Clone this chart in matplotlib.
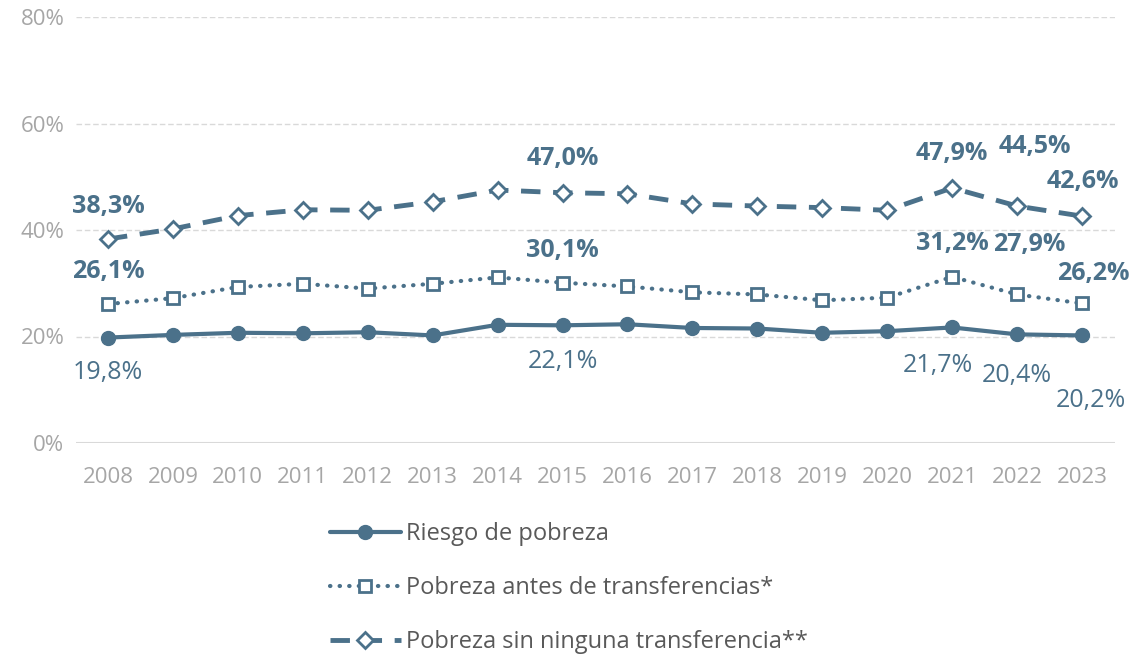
import matplotlib
matplotlib.use("Agg")
import matplotlib.pyplot as plt
from matplotlib.ticker import FuncFormatter

years = [str(y) for y in range(2008, 2024)]
riesgo = [19.8, 20.3, 20.7, 20.6, 20.8, 20.2, 22.2, 22.1, 22.3, 21.6, 21.5, 20.7, 21.0, 21.7, 20.4, 20.2]
antes = [26.1, 27.2, 29.3, 29.9, 29.0, 29.9, 31.1, 30.1, 29.4, 28.3, 27.9, 26.8, 27.3, 31.2, 27.9, 26.2]
sin_ninguna = [38.3, 40.2, 42.7, 43.8, 43.7, 45.3, 47.5, 47.0, 46.8, 44.9, 44.5, 44.2, 43.7, 47.9, 44.5, 42.6]
series_names = ["Riesgo de pobreza", "Pobreza antes de transferencias*", "Pobreza sin ninguna transferencia**"]
labeled_years = ["2008", "2015", "2021", "2022", "2023"]

# label offsets in pixels (dx, dy) for labeled points, per series
off_riesgo = {"2008": (0, -35), "2015": (0, -36), "2021": (-14, -38), "2022": (0, -41), "2023": (9, -65)}
off_antes = {"2008": (0, 33), "2015": (0, 32), "2021": (0, 33), "2022": (12, 50), "2023": (11, 30)}
off_sin = {"2008": (0, 33), "2015": (0, 34), "2021": (0, 34), "2022": (18, 60), "2023": (1, 35)}

plt.rcParams['font.family'] = ['Open Sans', 'DejaVu Sans']
C = "#4b718a"
DPI = 100
fig = plt.figure(figsize=(11.33, 6.59), dpi=DPI)
ax = fig.add_axes([75.5/1133, (659-443)/659, 1039/1133, 426/659])

x = list(range(len(years)))
l1, = ax.plot(x, riesgo, color=C, lw=3, marker='o', ms=10, mfc=C, mec=C,
              label=series_names[0], solid_capstyle='round', zorder=3)
l2, = ax.plot(x, antes, color=C, lw=3, linestyle=(0, (0.1, 2.2)), dash_capstyle='round',
              marker='s', ms=8.5, mfc='white', mec=C, mew=2, label=series_names[1], zorder=3)
l3, = ax.plot(x, sin_ninguna, color=C, lw=3.5, linestyle=(0, (4, 2.6)),
              marker='D', ms=8.5, mfc='white', mec=C, mew=2, label=series_names[2], zorder=3)

def fmt(v):
    return f"{v:.1f}%".replace(".", ",")

px2pt = 72 / DPI
for series, offs, weight in [(riesgo, off_riesgo, 'normal'), (antes, off_antes, 'bold'),
                             (sin_ninguna, off_sin, 'bold')]:
    for yr in labeled_years:
        i = years.index(yr)
        dx, dy = offs[yr]
        ax.annotate(fmt(series[i]), (i, series[i]), xytext=(dx*px2pt, dy*px2pt),
                    textcoords='offset points', ha='center', va='center',
                    fontsize=18, fontweight=weight, color=C)

ax.set_xlim(-0.5, len(years) - 0.5)
ax.set_ylim(0, 80)
ax.set_yticks([0, 20, 40, 60, 80])
ax.yaxis.set_major_formatter(FuncFormatter(lambda v, p: f"{v:.0f}%"))
ax.set_xticks(x)
ax.set_xticklabels(years)
for yv in [20, 40, 60, 80]:
    ax.axhline(yv, color='#d9d9d9', lw=1, linestyle=(0, (4, 2)), zorder=1)
ax.axhline(0, color='#d9d9d9', lw=2.2, zorder=2)
for s in ax.spines.values():
    s.set_visible(False)
ax.tick_params(axis='both', length=0, colors='#a6a6a6', labelsize=16)
ax.tick_params(axis='x', pad=17)
ax.tick_params(axis='y', pad=8)

leg = fig.legend(handles=[l1, l2, l3], loc='upper left',
                 bbox_to_anchor=(330/1133, (659-522)/659), frameon=False,
                 fontsize=17, handlelength=3.0, handletextpad=0.2,
                 labelspacing=1.28, borderpad=0, borderaxespad=0)
for t in leg.get_texts():
    t.set_color('#595959')

fig.savefig("out.png", dpi=DPI)
